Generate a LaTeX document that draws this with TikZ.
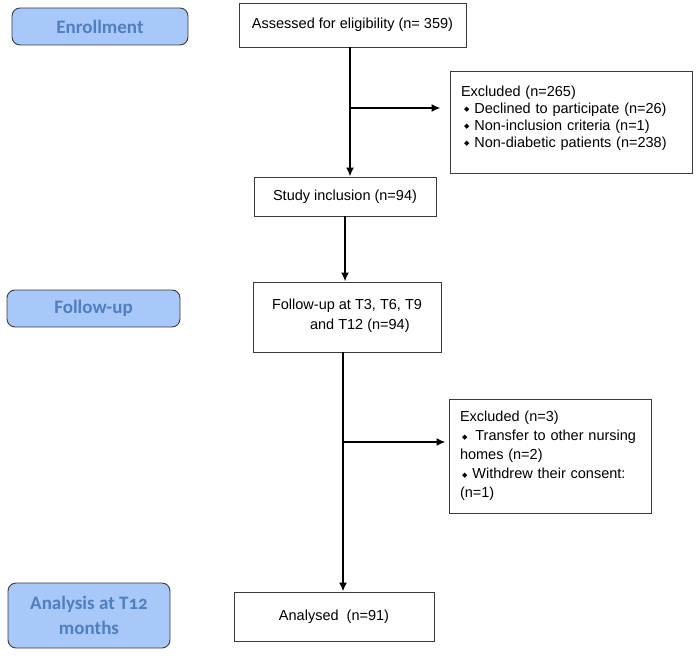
\documentclass[tikz,border=0pt]{standalone}
\usepackage{fontspec}
\setmainfont{Liberation Sans}
\newfontfamily\phasefont[Numbers=OldStyle]{Carlito}
\newfontfamily\symfont{DejaVu Sans}
\usetikzlibrary{arrows.meta,positioning,calc}
\definecolor{phaseblue}{HTML}{A8C8FA}
\definecolor{phasetext}{HTML}{4F7FBF}
\definecolor{boxline}{HTML}{3A3A3A}
\newcommand{\dbul}{{\symfont\fontsize{7}{7}\selectfont\raisebox{1.5pt}{◆}}}
\tikzset{
  box/.style        = {draw=boxline, line width=0.9pt, fill=white, inner sep=3pt,
                       font=\fontsize{14.5}{14.5}\selectfont},
  phase/.style      = {draw=boxline, line width=0.9pt, fill=phaseblue, rounded corners=8pt,
                       text=phasetext, align=center, font=\phasefont\bfseries\fontsize{19}{25}\selectfont},
  sig/.style        = {-{Latex[length=9pt,width=8pt]}, line width=2.2pt},
  wire/.style       = {line width=2.2pt},
}

\begin{document}
\begin{tikzpicture}[x=1pt, y=-1pt]
  \useasboundingbox (0,0) rectangle (700,655);
  \node[phase, minimum width=176pt, minimum height=37pt] (enrol) at (100,26.5) {Enrollment};
  \node[phase, minimum width=173pt, minimum height=37pt] (followup) at (93.5,308.5) {Follow-up};
  \node[phase, minimum width=162pt, minimum height=65pt] (analysis) at (89,615.5) {Analysis at T12\\months};

  \node[box, minimum width=227pt, minimum height=44pt] (assess) at (352.5,25) {Assessed for eligibility (n= 359)};
  \node[box, minimum width=182pt, minimum height=39pt] (study) at (345,196.5) {Study inclusion (n=94)};
  \node[box, minimum width=188pt, minimum height=70pt, align=left, font=\fontsize{14.5}{20}\selectfont] (fu) at (347,317)
    {Follow-up at T3, T6, T9\\\hspace*{38pt}and T12 (n=94)\\[-14pt]\mbox{}};
  \node[box, minimum width=200pt, minimum height=49pt] (analysed) at (334,616.5) {Analysed\ \ (n=91)};

  \node[box, minimum width=242pt, minimum height=102pt, text width=220pt, inner xsep=11pt, align=left,
        font=\fontsize{14.5}{17}\selectfont] (excl1) at (571,122)
    {Excluded (n=265)\\
     \hspace*{3pt}\dbul\hspace{5pt}Declined to participate (n=26)\\
     \hspace*{3pt}\dbul\hspace{5pt}Non-inclusion criteria (n=1)\\
     \hspace*{3pt}\dbul\hspace{5pt}Non-diabetic patients (n=238)\\[-6pt]
     \mbox{}};
  \node[box, minimum width=202pt, minimum height=114pt, text width=180pt, inner xsep=11pt, align=left,
        font=\fontsize{14.5}{19}\selectfont] (excl2) at (550,456)
    {Excluded (n=3)\\
     \hspace*{2pt}\dbul\hspace{8pt}Transfer to other nursing\\
     homes (n=2)\\
     \hspace*{2pt}\dbul\hspace{5pt}Withdrew their consent:\\
     (n=1)};

  \coordinate (br1) at (350,108);
  \coordinate (br2) at (343,442);
  \draw[sig] (assess.south -| br1) -- (study.north -| br1);
  \draw[sig, shorten >=9pt] (br1) -- (excl1.west |- br1);
  \draw[sig] (study.south) -- (study.south |- fu.north);
  \draw[sig] (fu.south -| br2) -- (analysed.north -| br2);
  \draw[sig, shorten >=3pt] (br2) -- (excl2.west |- br2);
\end{tikzpicture}
\end{document}
